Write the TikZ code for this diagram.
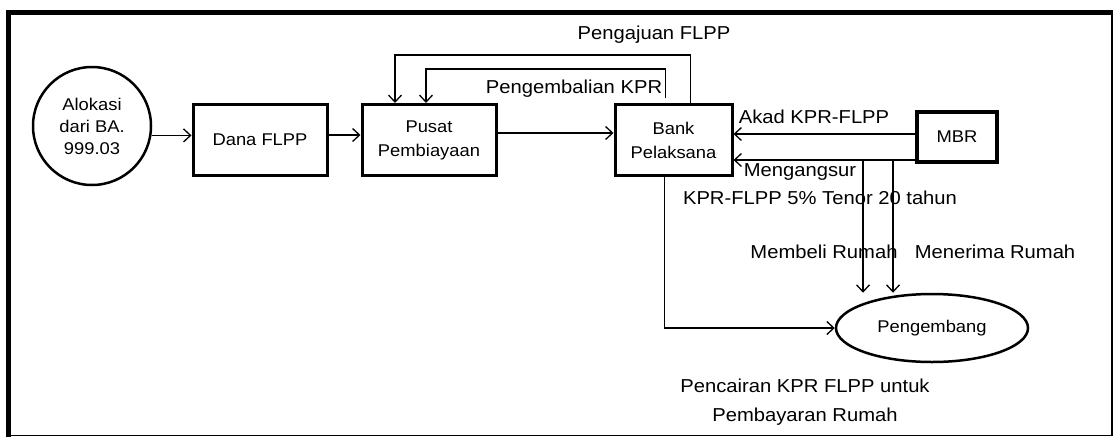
\documentclass[tikz,border=0pt]{standalone}
\usepackage{fontspec}
\setmainfont{Liberation Sans}[FakeStretch=1.08]
\usetikzlibrary{shapes.geometric,arrows.meta,positioning}

\tikzset{
  unit/.style={draw, line width=3pt, minimum width=134pt, minimum height=71pt,
    align=center, font=\fontsize{17}{24}\selectfont},
  arr/.style={-{Straight Barb[length=7pt,width=13pt]}, line width=1.3pt},
  lbl/.style={inner sep=0pt, font=\fontsize{18.7}{29}\selectfont}
}

\begin{document}
\begin{tikzpicture}[x=1pt,y=-1pt]

  % Frame:
  \useasboundingbox (0,0) rectangle (1113,437);
  \draw[line width=1.5pt] (1112,12) -- (1112,435.5) -- (8,435.5);
  \draw[line width=4.5pt] (8.5,437) -- (8.5,12.5) -- (1113,12.5);

  % Nodes:
  \node[draw, circle, line width=2.5pt, minimum size=118pt, align=center,
    font=\fontsize{17}{22}\selectfont] (alokasi) at (92,126) {Alokasi\\dari BA.\\999.03};
  \node[unit] (dana) at (260,140) {Dana FLPP};
  \node[unit, right=32pt of dana] (pusat) {Pusat\\Pembiayaan};
  \node[unit, minimum width=117pt, right=116pt of pusat] (bank) {Bank\\Pelaksana};
  \node[unit, minimum width=80pt, minimum height=50pt, line width=3.5pt] (mbr) at (957,137) {MBR};
  \node[draw, ellipse, line width=2.5pt, minimum width=192pt, minimum height=68pt,
    font=\fontsize{17}{22}\selectfont] (peng) at (932,328) {Pengembang};
  \coordinate (beli) at (863,160);
  \coordinate (terima) at (893,160);

  % Connections:
  \draw[arr] (alokasi.-9) -- (alokasi.-9 -| dana.west);
  \draw[arr] ([yshift=5pt]dana.east) -- ([yshift=5pt]pusat.west);
  \draw[arr] ([yshift=7pt]pusat.east) -- ([yshift=7pt]bank.west);
  \draw[arr] ([xshift=17pt]bank.north) -- ++(0,-48) -| ([xshift=-34pt]pusat.north);
  \draw[arr] ([xshift=-8pt,yshift=5pt]bank.north) -- ++(0,-29) -| ([xshift=-3pt]pusat.north);
  \draw[arr] ([yshift=3pt]mbr.west) -- ([yshift=3pt]mbr.west -| bank.east);
  \draw[arr] ([yshift=-23pt]mbr.west) -- ([yshift=-23pt]mbr.west -| bank.east);
  \draw[arr] (beli) -- (beli |- peng.north);
  \draw[arr] (terima) -- (terima |- peng.north);
  \draw[arr] ([xshift=-9pt]bank.south) |- (peng.west);

  % Labels:
  \node[lbl] (pengajuan) at (654,35) {Pengajuan FLPP};
  \node[lbl] (pengembalian) at (574,89) {Pengembalian KPR};
  \node[lbl] (akad) at (814,117) {Akad KPR-FLPP};
  \node[lbl] (angsur) at (800,172) {Mengangsur};
  \node[lbl] (tenor) at (820,198) {KPR-FLPP 5\% Tenor 20 tahun};
  \node[lbl] (belilbl) at (824,252) {Membeli Rumah};
  \node[lbl] (terimalbl) at (995,252) {Menerima Rumah};
  \node[lbl, align=center] (cair) at (805,402) {Pencairan KPR FLPP untuk\\Pembayaran Rumah};

\end{tikzpicture}
\end{document}
